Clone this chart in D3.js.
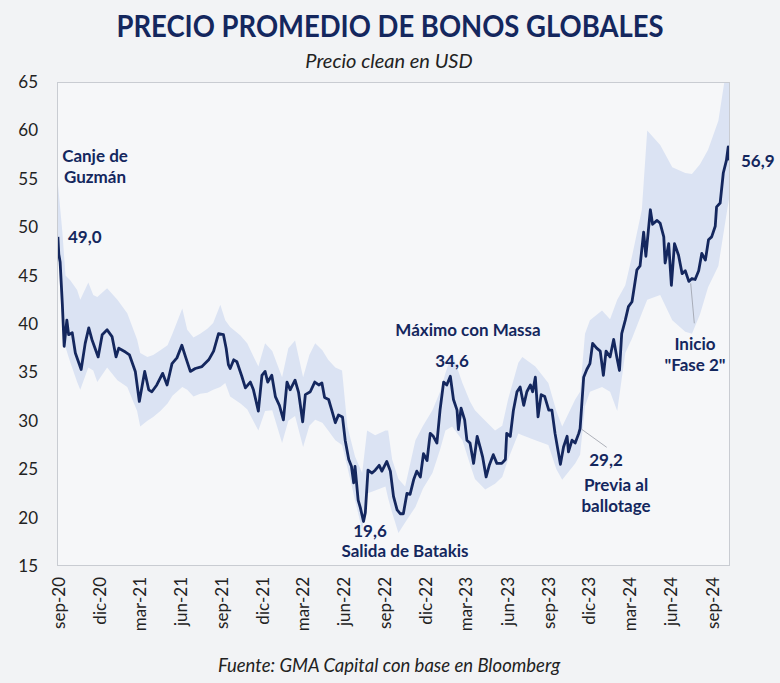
<!DOCTYPE html>
<html>
<head>
<meta charset="utf-8">
<script src="https://cdn.jsdelivr.net/npm/d3@7/dist/d3.min.js"></script>
<style>
  body { margin: 0; background: #f2f3f5; }
  svg { display: block; font-family: Lato, "Open Sans", sans-serif; }
</style>
</head>
<body>
<svg id="chart"></svg>
<script>
// Precio promedio de bonos globales (precio clean, USD)

const fechas = [
  "2020-08-31","2020-09-02","2020-09-05","2020-09-10","2020-09-14","2020-09-20","2020-09-24","2020-10-02","2020-10-09","2020-10-22","2020-10-31","2020-11-08","2020-11-15","2020-11-29","2020-12-08","2020-12-19","2020-12-30",
  "2021-01-08","2021-01-14","2021-01-29","2021-02-07","2021-02-20","2021-03-01","2021-03-13","2021-03-22","2021-03-29","2021-04-09","2021-04-22","2021-05-02","2021-05-13","2021-05-24","2021-06-04","2021-06-13","2021-06-23","2021-07-04","2021-07-19","2021-08-03","2021-08-14","2021-08-25","2021-09-05","2021-09-11","2021-09-16","2021-09-20","2021-09-28","2021-10-05","2021-10-16","2021-10-24","2021-11-04","2021-11-11","2021-11-22","2021-11-30","2021-12-07","2021-12-13","2021-12-22","2021-12-30",
  "2022-01-08","2022-01-17","2022-01-25","2022-02-01","2022-02-12","2022-02-20","2022-03-01","2022-03-07","2022-03-18","2022-03-28","2022-04-06","2022-04-13","2022-04-19","2022-04-28","2022-05-05","2022-05-13","2022-05-20","2022-05-29","2022-06-04","2022-06-12","2022-06-18","2022-06-23","2022-06-26","2022-07-03","2022-07-08","2022-07-15","2022-07-19","2022-07-25","2022-08-03","2022-08-10","2022-08-19","2022-08-25","2022-09-05","2022-09-13","2022-09-20","2022-09-28","2022-10-05","2022-10-12","2022-10-20","2022-10-27","2022-11-04","2022-11-11","2022-11-19","2022-11-26","2022-12-04","2022-12-11","2022-12-18","2022-12-26",
  "2023-01-02","2023-01-10","2023-01-17","2023-01-25","2023-02-01","2023-02-09","2023-02-12","2023-02-18","2023-02-26","2023-03-03","2023-03-10","2023-03-18","2023-03-26","2023-04-02","2023-04-07","2023-04-15","2023-04-22","2023-05-01","2023-05-09","2023-05-20","2023-05-28","2023-05-31","2023-06-08","2023-06-15","2023-06-23","2023-06-30","2023-07-08","2023-07-15","2023-07-23","2023-07-28","2023-08-03","2023-08-09","2023-08-16","2023-08-24","2023-09-02","2023-09-09","2023-09-16","2023-09-28","2023-10-05","2023-10-13","2023-10-16","2023-10-24","2023-10-31","2023-11-08","2023-11-11","2023-11-19","2023-11-26","2023-12-03","2023-12-09","2023-12-18","2023-12-26",
  "2024-01-02","2024-01-08","2024-01-17","2024-01-25","2024-02-01","2024-02-07","2024-02-12","2024-02-20","2024-02-27","2024-03-06","2024-03-11","2024-03-17","2024-03-24","2024-04-01","2024-04-06","2024-04-16","2024-04-21","2024-05-01","2024-05-08","2024-05-16","2024-05-19","2024-05-27","2024-06-02","2024-06-09","2024-06-18","2024-06-26","2024-07-03","2024-07-11","2024-07-18","2024-07-25","2024-08-02","2024-08-09","2024-08-17","2024-08-24","2024-08-31","2024-09-08","2024-09-11","2024-09-19","2024-09-26","2024-10-03","2024-10-07","2024-10-09"
];

const promedio = [
  49.0, 47.2, 46.4, 42.0, 37.7, 40.4, 38.9, 39.1, 37.0, 35.3, 38.0, 39.6, 38.4, 36.6, 38.9, 39.4, 38.7,
  36.6, 37.5, 37.1, 36.8, 35.1, 32.0, 35.1, 33.2, 33.0, 33.7, 34.9, 33.7, 35.9, 36.5, 37.8, 36.5, 35.1, 35.4, 35.6, 36.3, 37.2, 39.0, 38.9, 37.5, 35.8, 35.4, 36.3, 36.1, 34.6, 33.4, 34.0, 33.2, 31.0, 34.7, 35.1, 34.0, 34.7, 32.5,
  31.6, 30.1, 34.0, 33.2, 34.2, 32.9, 29.9, 32.7, 33.0, 34.0, 33.7, 33.9, 32.4, 32.2, 31.1, 29.8, 30.6, 30.4, 28.0, 26.0, 25.3, 23.6, 25.3, 21.8, 21.0, 19.6, 20.5, 24.9, 24.6, 24.9, 25.4, 24.8, 25.8, 24.8, 22.2, 20.8, 20.4, 20.4, 22.5, 22.4, 23.9, 24.8, 24.2, 26.6, 25.9, 28.7, 28.4, 27.7,
  31.1, 34.0, 33.7, 34.6, 32.2, 31.1, 29.1, 31.3, 30.1, 28.0, 27.7, 25.6, 28.4, 27.2, 26.3, 24.2, 25.4, 26.5, 25.6, 25.6, 26.0, 28.7, 28.4, 31.1, 33.0, 33.5, 31.6, 33.0, 33.7, 33.0, 34.5, 30.4, 32.7, 32.5, 31.1, 31.1, 28.7, 25.5, 27.3, 28.4, 26.8, 28.0, 27.7, 28.7, 29.2, 34.5, 35.3, 35.9, 38.0, 37.5, 37.2,
  34.7, 37.2, 36.6, 38.4, 36.6, 35.2, 39.0, 40.4, 41.8, 42.3, 43.8, 45.6, 46.0, 49.5, 47.0, 51.8, 50.3, 50.7, 50.4, 49.0, 46.3, 48.3, 44.0, 48.3, 47.1, 45.2, 45.5, 44.4, 44.7, 44.6, 45.5, 47.3, 46.6, 48.7, 49.0, 50.1, 52.1, 52.5, 55.6, 56.9, 58.3, 56.9
];

// banda de precios (mínimo y máximo entre los bonos)
const bandaFechas = [
  "2020-08-31","2020-09-10","2020-09-17","2020-09-28","2020-10-13","2020-10-20","2020-11-07","2020-11-18","2020-11-27","2020-12-19",
  "2021-01-11","2021-02-02","2021-02-24","2021-03-03","2021-03-19","2021-04-01","2021-04-17","2021-05-03","2021-05-14","2021-06-05","2021-06-16","2021-06-30","2021-07-15","2021-07-31","2021-08-13","2021-08-29","2021-09-09","2021-09-20","2021-10-13","2021-10-28","2021-11-22","2021-12-07","2021-12-23",
  "2022-01-14","2022-01-28","2022-02-12","2022-03-02","2022-03-16","2022-03-29","2022-04-14","2022-04-27","2022-05-13","2022-05-28","2022-06-09","2022-06-26","2022-07-12","2022-07-23","2022-08-10","2022-09-02","2022-09-08","2022-09-17","2022-10-01","2022-10-16","2022-11-08","2022-11-25","2022-12-16",
  "2023-01-02","2023-01-14","2023-01-29","2023-02-21","2023-03-10","2023-03-21","2023-04-13","2023-05-05","2023-05-21","2023-06-03","2023-06-26","2023-07-05","2023-08-03","2023-09-01","2023-09-19","2023-10-02","2023-10-31","2023-11-11","2023-11-22","2023-12-03","2023-12-30",
  "2024-01-17","2024-02-02","2024-02-20","2024-03-06","2024-03-28","2024-04-09","2024-05-08","2024-06-04","2024-07-03","2024-07-18","2024-08-05","2024-08-23","2024-09-15","2024-09-30","2024-10-09"
];
const bandaMax = [
  54.5, 49.5, 45.0, 44.5, 43.5, 42.5, 44.3, 43.0, 42.8, 43.7,
  42.5, 41.1, 38.4, 37.0, 36.6, 36.8, 37.3, 37.8, 39.0, 41.6, 39.4, 38.6, 39.0, 39.5, 40.1, 42.0, 40.4, 39.7, 38.8, 38.0, 35.6, 38.0, 37.2,
  34.5, 37.5, 38.3, 34.5, 36.8, 38.0, 37.3, 36.3, 35.5, 35.2, 29.4, 26.3, 24.6, 29.0, 28.5, 29.0, 29.0, 26.0, 24.0, 23.2, 28.0, 29.5, 31.1,
  33.0, 34.9, 37.0, 33.9, 32.0, 31.1, 30.0, 29.0, 29.5, 32.2, 36.0, 36.6, 35.6, 33.9, 31.0, 29.4, 32.2, 33.0, 39.0, 40.4, 41.4,
  40.5, 42.5, 44.0, 47.0, 51.8, 60.0, 58.5, 56.2, 55.6, 55.5, 56.5, 58.0, 61.0, 65.5, 67.0
];
const bandaMin = [
  47.5, 40.0, 37.6, 36.0, 34.0, 33.2, 35.5, 35.2, 34.0, 35.5,
  34.2, 33.5, 31.0, 29.4, 30.0, 30.4, 31.0, 31.8, 32.6, 33.5, 33.2, 32.5, 32.8, 32.9, 33.2, 33.5, 33.9, 32.5, 31.8, 31.2, 29.0, 31.0, 31.1,
  27.7, 30.0, 30.5, 27.3, 29.5, 30.1, 29.8, 29.0, 28.0, 27.5, 25.2, 21.8, 18.7, 22.5, 22.8, 23.2, 22.0, 20.5, 18.4, 19.5, 21.1, 23.0, 24.6,
  27.0, 29.0, 29.4, 28.0, 25.5, 24.0, 22.9, 23.5, 24.2, 26.0, 28.7, 28.5, 28.0, 27.5, 25.0, 23.9, 25.6, 26.5, 31.5, 33.0, 33.5,
  33.0, 31.0, 37.0, 38.5, 41.1, 42.5, 43.0, 40.4, 39.2, 39.0, 41.0, 43.8, 46.0, 50.4, 53.0
];

const yTicks = [15, 20, 25, 30, 35, 40, 45, 50, 55, 60, 65];
const mesesCortos = ["ene","feb","mar","abr","may","jun","jul","ago","sep","oct","nov","dic"];

// anotaciones
const anotaciones = [
  { lineas: ["Canje de", "Guzmán"], x: 95, y: 162, anchor: "middle" },
  { lineas: ["49,0"], x: 68, y: 243, anchor: "start" },
  { lineas: ["Máximo con Massa"], x: 468, y: 336, anchor: "middle" },
  { lineas: ["34,6"], x: 452, y: 367, anchor: "middle" },
  { lineas: ["19,6"], x: 370, y: 537, anchor: "middle" },
  { lineas: ["Salida de Batakis"], x: 405, y: 557, anchor: "middle" },
  { lineas: ["29,2"], x: 606, y: 466, anchor: "middle" },
  { lineas: ["Previa al", "ballotage"], x: 616, y: 491, anchor: "middle" },
  { lineas: ["Inicio", "\"Fase 2\""], x: 695, y: 350, anchor: "middle" },
  { lineas: ["56,9"], x: 741, y: 167, anchor: "start" }
];

const width = 780, height = 683;
const margin = { top: 82, right: 50, bottom: 117, left: 57 };
const navy = "#14275e";

const parse = d3.timeParse("%Y-%m-%d");
const serie = fechas.map((f, i) => ({ fecha: parse(f), valor: promedio[i] }));
const banda = bandaFechas.map((f, i) => ({ fecha: parse(f), max: bandaMax[i], min: bandaMin[i] }));

const svg = d3.select("#chart").attr("width", width).attr("height", height);

svg.append("rect").attr("width", width).attr("height", height).attr("fill", "#f2f3f5");

const x = d3.scaleTime()
    .domain([parse("2020-08-29"), parse("2024-10-11")])
    .range([margin.left, width - margin.right]);
const y = d3.scaleLinear()
    .domain([15, 65])
    .range([height - margin.bottom, margin.top]);

// plot background + frame
svg.append("rect")
    .attr("x", margin.left).attr("y", margin.top)
    .attr("width", width - margin.left - margin.right)
    .attr("height", height - margin.top - margin.bottom)
    .attr("fill", "#f6f7f9");

svg.append("clipPath").attr("id", "clip")
  .append("rect")
    .attr("x", margin.left).attr("y", margin.top)
    .attr("width", width - margin.left - margin.right)
    .attr("height", height - margin.top - margin.bottom);

const plot = svg.append("g").attr("clip-path", "url(#clip)");

const area = d3.area()
    .x(d => x(d.fecha))
    .y0(d => y(d.min))
    .y1(d => y(d.max));

plot.append("path")
    .datum(banda)
    .attr("d", area)
    .attr("fill", "#dbe3f3");

const line = d3.line()
    .x(d => x(d.fecha))
    .y(d => y(d.valor));

plot.append("path")
    .datum(serie)
    .attr("d", line)
    .attr("fill", "none")
    .attr("stroke", navy)
    .attr("stroke-width", 2.8)
    .attr("stroke-linejoin", "round");

svg.append("rect")
    .attr("x", margin.left + 0.5).attr("y", margin.top + 0.5)
    .attr("width", width - margin.left - margin.right - 1)
    .attr("height", height - margin.top - margin.bottom - 1)
    .attr("fill", "none")
    .attr("stroke", "#c9ccd2");

// y axis
const yAxis = svg.append("g")
    .attr("transform", `translate(${margin.left},0)`)
    .call(d3.axisLeft(y).tickValues(yTicks).tickSize(0).tickPadding(19));
yAxis.select(".domain").remove();
yAxis.selectAll("text")
    .attr("font-family", "Lato, sans-serif")
    .attr("font-size", 17)
    .attr("fill", "#222");

// x axis (trimestral, desde sep-20)
const tickFechas = d3.timeMonth.range(parse("2020-09-01"), parse("2024-10-01"), 3);
const fmtMes = d => `${mesesCortos[d.getMonth()]}-${String(d.getFullYear()).slice(2)}`;

const xAxis = svg.append("g")
    .attr("transform", `translate(0,${height - margin.bottom})`)
    .call(d3.axisBottom(x).tickValues(tickFechas).tickFormat(fmtMes).tickSize(0));
xAxis.select(".domain").remove();
xAxis.selectAll("text")
    .attr("font-family", "Lato, sans-serif")
    .attr("font-size", 17)
    .attr("fill", "#222")
    .attr("text-anchor", "end")
    .attr("transform", "rotate(-90)")
    .attr("x", -11)
    .attr("y", 0)
    .attr("dy", "0.35em");

// leader lines
const guias = [
  [[581.7, 429.3], [606.7, 447.3]],
  [[690.7, 283.3], [694.3, 323.3]]
];
svg.append("g").selectAll("line")
  .data(guias)
  .join("line")
    .attr("x1", d => d[0][0]).attr("y1", d => d[0][1])
    .attr("x2", d => d[1][0]).attr("y2", d => d[1][1])
    .attr("stroke", "#9a9ea8")
    .attr("stroke-width", 0.8);

// annotations
const notas = svg.append("g")
    .attr("font-family", "Lato, sans-serif")
    .attr("font-size", 17)
    .attr("font-weight", 700)
    .attr("fill", navy);

anotaciones.forEach(a => {
  const t = notas.append("text")
      .attr("x", a.x).attr("y", a.y)
      .attr("text-anchor", a.anchor);
  a.lineas.forEach((l, i) => {
    t.append("tspan").attr("x", a.x).attr("dy", i === 0 ? 0 : 20.5).text(l);
  });
});

// titles
svg.append("text")
    .attr("x", 390).attr("y", 37)
    .attr("text-anchor", "middle")
    .attr("font-family", "Lato, sans-serif")
    .attr("font-weight", 700)
    .attr("font-size", 31)
    .attr("textLength", 547)
    .attr("lengthAdjust", "spacingAndGlyphs")
    .attr("fill", navy)
    .text("PRECIO PROMEDIO DE BONOS GLOBALES");

svg.append("text")
    .attr("x", 389).attr("y", 68)
    .attr("text-anchor", "middle")
    .attr("font-family", "Lato, sans-serif")
    .attr("font-style", "italic")
    .attr("font-size", 20)
    .attr("fill", "#222")
    .text("Precio clean en USD");

svg.append("text")
    .attr("x", 389).attr("y", 672)
    .attr("text-anchor", "middle")
    .attr("font-family", "Lato, sans-serif")
    .attr("font-style", "italic")
    .attr("font-size", 18.5)
    .attr("fill", "#222")
    .text("Fuente: GMA Capital con base en Bloomberg");
</script>
</body>
</html>
